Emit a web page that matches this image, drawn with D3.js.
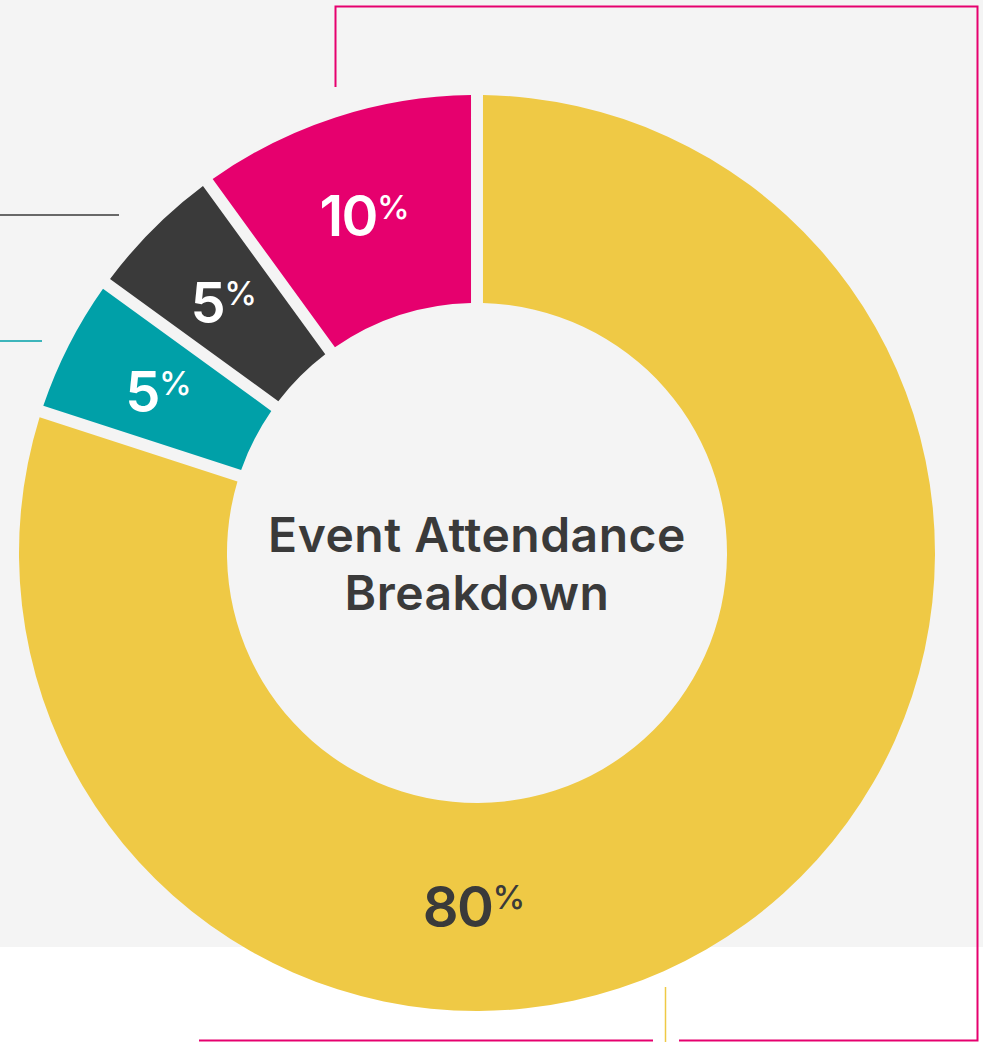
<!DOCTYPE html>
<html>
<head>
<meta charset="utf-8">
<script src="https://cdn.jsdelivr.net/npm/d3@7"></script>
<style>
  html, body { margin: 0; padding: 0; background: #ffffff; }
  svg { display: block; }
  text { font-family: Inter, "Open Sans", sans-serif; }
</style>
</head>
<body>
<svg id="chart" width="983" height="1042"></svg>
<script>
// ---- data ----
const categories = ["Attended", "Teal group", "Dark group", "Pink group"];
const values = [80, 5, 5, 10];
const colors = ["#EFC945", "#00A0A8", "#3A3A3A", "#E6006E"];
const labelColors = ["#3A3A3A", "#FFFFFF", "#FFFFFF", "#FFFFFF"];
const titleLines = ["Event Attendance", "Breakdown"];

const W = 983, H = 1042;
const cx = 477, cy = 553;
const outerR = 458, innerR = 250;

const svg = d3.select("#chart");

// background panel
svg.append("rect").attr("x", 0).attr("y", 0).attr("width", W).attr("height", 947).attr("fill", "#F4F4F4");

// decorative frame lines
const deco = svg.append("g").attr("fill", "none");
deco.append("path").attr("d", "M335.5,87 V6.5 H977.5 V1040.5 H679").attr("stroke", colors[3]).attr("stroke-width", 2);
deco.append("path").attr("d", "M653,1040.5 H199").attr("stroke", colors[3]).attr("stroke-width", 2);
deco.append("path").attr("d", "M0,215 H119").attr("stroke", colors[2]).attr("stroke-width", 1.5);
deco.append("path").attr("d", "M0,341 H42").attr("stroke", colors[1]).attr("stroke-width", 1.5);
deco.append("path").attr("d", "M665.5,987 V1042").attr("stroke", colors[0]).attr("stroke-width", 1.5);

const data = categories.map((c, i) => ({ category: c, value: values[i], color: colors[i], labelColor: labelColors[i] }));

const pie = d3.pie().value(d => d.value).sort(null);
const arcs = pie(data);

const arc = d3.arc()
  .innerRadius(innerR)
  .outerRadius(outerR)
  .padAngle(0.023)
  .padRadius(520);

const g = svg.append("g").attr("transform", `translate(${cx},${cy})`);

g.selectAll("path.slice")
  .data(arcs)
  .join("path")
  .attr("class", "slice")
  .attr("d", arc)
  .attr("fill", d => d.data.color);

// labels
const labelR = 354;
const numSize = 56, pctSize = 33;
const labels = g.selectAll("text.lbl")
  .data(arcs)
  .join("text")
  .attr("class", "lbl")
  .attr("text-anchor", "middle")
  .attr("fill", d => d.data.labelColor)
  .attr("font-weight", 600)
  .attr("transform", d => {
    const mid = d.value > 50 ? Math.PI : (d.startAngle + d.endAngle) / 2;
    const x = Math.sin(mid) * labelR;
    const y = -Math.cos(mid) * labelR;
    return `translate(${x - 3},${y + numSize * 0.36})`;
  });
labels.append("tspan")
  .attr("font-size", numSize)
  .attr("letter-spacing", -1.5)
  .text(d => d.data.value);
labels.append("tspan")
  .attr("font-size", pctSize)
  .attr("font-weight", 500)
  .attr("dy", -numSize * 0.32)
  .attr("dx", 0)
  .text("%");

// center title
const title = g.append("text")
  .attr("text-anchor", "middle")
  .attr("fill", "#3A3A3A")
  .attr("font-weight", 600)
  .attr("font-size", 48)
  .attr("letter-spacing", 0.5);
title.selectAll("tspan")
  .data(titleLines)
  .join("tspan")
  .attr("x", 0)
  .attr("y", (d, i) => -1 + i * 58)
  .text(d => d);
</script>
</body>
</html>
